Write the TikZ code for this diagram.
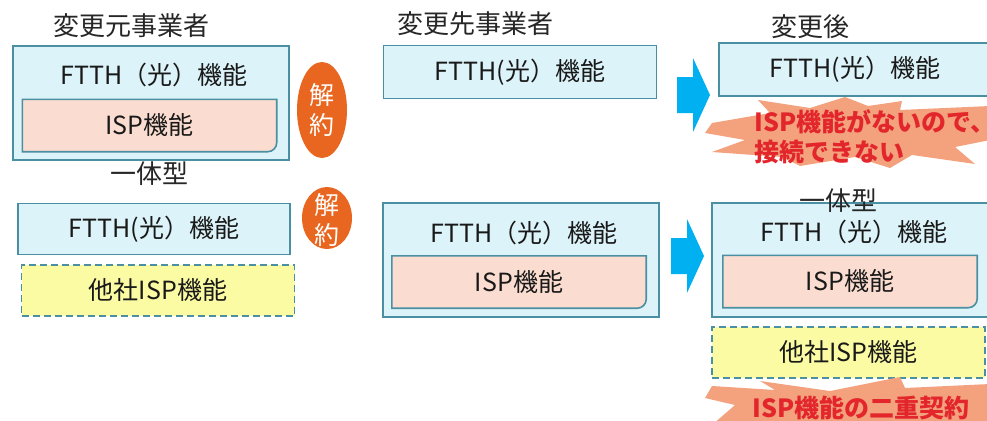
\documentclass[tikz,border=0pt]{standalone}
\usepackage{fontspec}
\setmainfont{Noto Sans CJK JP}
\usepackage{tikz}
\usetikzlibrary{positioning,shapes.geometric}

\definecolor{hikari}{HTML}{DCF3F9}
\definecolor{waku}{HTML}{4B8FA2}
\definecolor{ispiro}{HTML}{FADDD0}
\definecolor{kiiro}{HTML}{FBFBA3}
\definecolor{kaiyakuiro}{HTML}{E8661F}
\definecolor{yaji}{HTML}{00B0F0}
\definecolor{bakuha}{HTML}{F3A27D}
\definecolor{keikoku}{HTML}{E2262C}

\tikzset{
  midashi/.style={font=\fontsize{26}{28}\selectfont, text=black!85},
  kinou/.style={font=\fontsize{25}{27}\selectfont, text=black!90},
  hikaribox/.style={kinou, draw=waku, fill=hikari, line width=1.6pt, inner sep=0pt},
  tashabox/.style={kinou, draw=waku, fill=kiiro, line width=1.6pt,
    dash pattern=on 7pt off 4pt, inner sep=0pt},
  ispbox/.style={kinou, minimum width=256pt, minimum height=54pt, inner sep=0pt,
    path picture={
      \filldraw[fill=ispiro, draw=waku, line width=1.6pt]
        ([shift={(.8pt,.8pt)}]path picture bounding box.south west) --
        ([shift={(.8pt,-.8pt)}]path picture bounding box.north west) --
        ([shift={(-.8pt,-.8pt)}]path picture bounding box.north east) [rounded corners=9pt] --
        ([shift={(-.8pt,.8pt)}]path picture bounding box.south east) [sharp corners] -- cycle;
    }},
  kaiyakuoval/.style={ellipse, fill=kaiyakuiro, inner sep=0pt},
  kaiyakumoji/.style={font=\fontsize{25}{30}\selectfont, text=white, align=center},
  keikokumoji/.style={font=\fontsize{25}{30}\selectfont\bfseries, text=keikoku, align=left},
}

\begin{document}
\begin{tikzpicture}[x=1pt, y=-1pt]
\useasboundingbox (0,0) rectangle (987,420);

\node[midashi] (moto) at (131,26) {変更元事業者};
\node[hikaribox, minimum width=276pt, minimum height=114pt] (moto1) at (151,103) {};
\node[kinou] (moto1ftth) at (154,75) {FTTH（光）機能};
\node[ispbox] (moto1isp) at (149.5,125.5) {ISP機能};
\node[midashi] (ittai1) at (149,174) {一体型};
\node[hikaribox, minimum width=272pt, minimum height=51pt] (moto2) at (154,229) {FTTH(光）機能};
\node[tashabox, minimum width=273pt, minimum height=51pt] (moto2tasha) at (158,290.5) {他社ISP機能};

\node[kaiyakuoval, minimum width=50pt, minimum height=96pt] (kaiyaku1) at (322,110) {};
\node[kaiyakumoji] (kaiyaku1moji) at (kaiyaku1) {解\\約};
\node[kaiyakuoval, minimum width=50pt, minimum height=62pt] (kaiyaku2) at (327,218) {};
\node[kaiyakumoji] (kaiyaku2moji) at (327,220) {解\\約};

\node[midashi] (saki) at (475,24) {変更先事業者};
\node[hikaribox, minimum width=273pt, minimum height=53pt] (saki1) at (520,72) {FTTH(光）機能};
\node[hikaribox, minimum width=276pt, minimum height=114pt] (saki2) at (521,260) {};
\node[kinou] (saki2ftth) at (524,233) {FTTH（光）機能};
\node[ispbox] (saki2isp) at (519,282) {ISP機能};

\foreach \ax/\ay in {677/95, 671/256}
  \fill[yaji] (\ax,\ay) ++(0,-18) -- ++(16,0) -- ++(0,-19) -- ++(17,37)
    -- ++(-17,37) -- ++(0,-19) -- ++(-16,0) -- cycle;

\node[midashi] (ato) at (810,27) {変更後};
\node[hikaribox, minimum width=272pt, minimum height=53pt] (ato1) at (855,69.5) {FTTH(光）機能};

\fill[bakuha] (712,123) -- (770,113) -- (758,100) -- (810,108) -- (845,97) -- (868,106)
  -- (902,101) -- (900,110) -- (990,106) -- (990,140) -- (955,147) -- (975,164)
  -- (912,155) -- (890,168) -- (855,157) -- (800,166) -- (782,157) -- (712,152)
  -- (745,140) -- (705,133) -- cycle;
\node[keikokumoji, anchor=west] (nashi) at (751,137) {ISP機能がないので、\\接続できない};

\node[hikaribox, minimum width=276pt, minimum height=114pt] (ato2) at (850,260) {};
\node[midashi] (ittai2) at (838,201) {一体型};
\node[kinou] (ato2ftth) at (854,232) {FTTH（光）機能};
\node[ispbox] (ato2isp) at (850,281.5) {ISP機能};
\node[tashabox, minimum width=273pt, minimum height=51pt] (ato2tasha) at (848.5,352.5) {他社ISP機能};

\fill[bakuha] (712,386) -- (775,390) -- (760,381) -- (830,391) -- (900,377) -- (905,388)
  -- (990,384) -- (990,425) -- (712,425) -- (735,405) -- (705,398) -- cycle;
\node[keikokumoji, anchor=west] (nijuu) at (749,408) {ISP機能の二重契約};
\end{tikzpicture}
\end{document}
